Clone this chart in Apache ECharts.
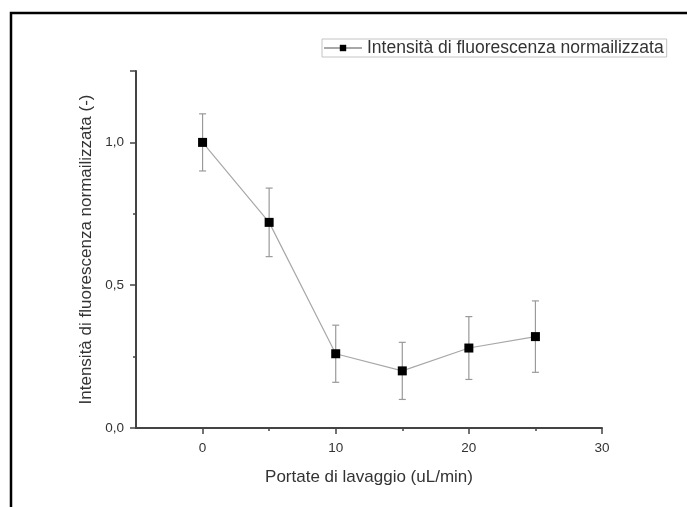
<!DOCTYPE html>
<html>
<head>
<meta charset="utf-8">
<script src="https://cdn.jsdelivr.net/npm/echarts@6/dist/echarts.min.js"></script>
<style>
  html, body { margin: 0; padding: 0; background: #fff; }
  #chart { width: 687px; height: 507px; }
</style>
</head>
<body>
<div id="chart"></div>
<script>
// Flow rates (uL/min) and normalised fluorescence intensity with error
const flowRates = [0, 5, 10, 15, 20, 25];
const intensity = [1.0, 0.72, 0.26, 0.20, 0.28, 0.32];
const intensityErr = [0.10, 0.12, 0.10, 0.10, 0.11, 0.125];

const seriesName = 'Intensità di fluorescenza normailizzata';
const xTitle = 'Portate di lavaggio (uL/min)';
const yTitle = 'Intensità di fluorescenza normailizzata (-)';

const FONT = '"Liberation Sans", Arial, sans-serif';
const AXIS = '#444';
const TEXT = '#333';
const TITLE_SIZE = 17;
const LEGEND_SIZE = 17.5;
const TICK_SIZE = 13.5;

// plot area
const W = 687, H = 507;
const gl = 136, gr = 85, gt = 71, gb = 79;
const gw = W - gl - gr;
const xMin = -5, xMax = 30;
// second grid starts at x = 0 so the major ticks line up with 0,10,20,30
const gl2 = gl + gw * (0 - xMin) / (xMax - xMin);

const linePoints = flowRates.map((x, i) => [x, intensity[i]]);
const errPoints = flowRates.map((x, i) => [x, intensity[i], intensityErr[i]]);

const fmtComma = v => v.toFixed(1).replace('.', ',');

const chart = echarts.init(document.getElementById('chart'), null, { renderer: 'canvas' });

chart.setOption({
  animation: false,
  textStyle: { fontFamily: FONT },
  graphic: [{
    type: 'rect',
    shape: { x: 11, y: 13, width: 690, height: 520 },
    style: { fill: 'none', stroke: '#000', lineWidth: 2.5 },
    silent: true
  }],
  legend: {
    data: [seriesName],
    left: 322, top: 39,
    itemWidth: 38, itemHeight: 8, itemGap: 0,
    padding: [0, 3, 0, 1],
    borderColor: '#c4c4c4', borderWidth: 1,
    textStyle: { fontSize: LEGEND_SIZE, color: TEXT, fontFamily: FONT, padding: [1, 0, 0, 0] }
  },
  grid: [
    { left: gl, right: gr, top: gt, bottom: gb },
    { left: gl2, right: gr, top: gt, bottom: gb }
  ],
  xAxis: [
    { // main data axis, carries line and title
      type: 'value', gridIndex: 0, position: 'bottom',
      min: xMin, max: xMax, interval: 5,
      axisLine: { show: true, onZero: false, lineStyle: { color: AXIS, width: 2 } },
      axisTick: { show: false },
      axisLabel: { show: false },
      splitLine: { show: false },
      name: xTitle, nameLocation: 'middle', nameGap: 41,
      nameTextStyle: { fontSize: TITLE_SIZE, color: TEXT, fontFamily: FONT }
    },
    { // minor ticks
      type: 'value', gridIndex: 1, position: 'bottom',
      min: 0, max: xMax, interval: 5,
      axisLine: { show: false, onZero: false },
      axisTick: { show: true, length: 3, lineStyle: { color: AXIS, width: 1.5 } },
      axisLabel: { show: false },
      splitLine: { show: false }
    },
    { // major ticks with labels
      type: 'value', gridIndex: 1, position: 'bottom',
      min: 0, max: xMax, interval: 10,
      axisLine: { show: false, onZero: false },
      axisTick: { show: true, length: 6, lineStyle: { color: AXIS, width: 1.5 } },
      axisLabel: { show: true, fontSize: TICK_SIZE, color: TEXT, margin: 13, fontFamily: FONT },
      splitLine: { show: false }
    }
  ],
  yAxis: [
    { // data axis with minor ticks
      type: 'value', gridIndex: 0, position: 'left',
      min: 0, max: 1.25, interval: 0.25,
      axisLine: { show: true, onZero: false, lineStyle: { color: AXIS, width: 2 } },
      axisTick: { show: true, length: 3, lineStyle: { color: AXIS, width: 1.5 } },
      axisLabel: { show: false },
      splitLine: { show: false }
    },
    { // major ticks with labels
      type: 'value', gridIndex: 0, position: 'left',
      min: 0, max: 1.25, interval: 0.5,
      axisLine: { show: false, onZero: false },
      axisTick: { show: true, length: 6, lineStyle: { color: AXIS, width: 1.5 } },
      axisLabel: {
        show: true, fontSize: TICK_SIZE, color: TEXT, margin: 12, fontFamily: FONT,
        formatter: v => (Math.abs(v / 0.5 - Math.round(v / 0.5)) < 1e-6 ? fmtComma(v) : '')
      },
      splitLine: { show: false },
      name: yTitle, nameLocation: 'middle', nameGap: 40, nameRotate: 90,
      nameTextStyle: { fontSize: TITLE_SIZE, color: TEXT, fontFamily: FONT }
    },
    { type: 'value', gridIndex: 1, min: 0, max: 1.25, show: false }
  ],
  series: [
    {
      type: 'custom',
      name: 'err',
      xAxisIndex: 0, yAxisIndex: 0,
      data: errPoints,
      z: 2,
      silent: true,
      renderItem: function (params, api) {
        const x = api.value(0), y = api.value(1), e = api.value(2);
        const top = api.coord([x, y + e]);
        const bot = api.coord([x, y - e]);
        const hw = 3.5;
        const st = { stroke: '#9a9a9a', lineWidth: 1.2 };
        return {
          type: 'group',
          children: [
            { type: 'line', shape: { x1: top[0], y1: top[1], x2: bot[0], y2: bot[1] }, style: st },
            { type: 'line', shape: { x1: top[0] - hw, y1: top[1], x2: top[0] + hw, y2: top[1] }, style: st },
            { type: 'line', shape: { x1: bot[0] - hw, y1: bot[1], x2: bot[0] + hw, y2: bot[1] }, style: st }
          ]
        };
      }
    },
    {
      type: 'line',
      name: seriesName,
      xAxisIndex: 0, yAxisIndex: 0,
      data: linePoints,
      z: 5,
      symbol: 'rect', symbolSize: 9,
      itemStyle: { color: '#000' },
      lineStyle: { color: '#a8a8a8', width: 1.2 }
    }
  ]
});
</script>
</body>
</html>
